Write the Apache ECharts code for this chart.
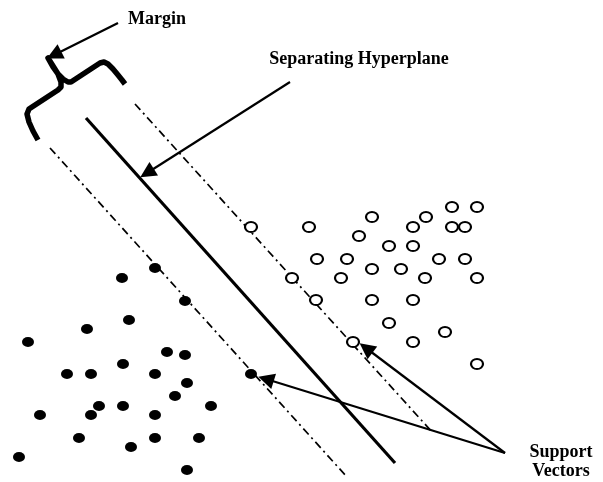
<!DOCTYPE html>
<html>
<head>
<meta charset="utf-8">
<script src="https://cdn.jsdelivr.net/npm/echarts@6/dist/echarts.min.js"></script>
<style>html,body{margin:0;padding:0;background:#fff;}#c{width:603px;height:482px;}</style>
</head>
<body>
<div id="c"></div>
<script>
// Class +1 (open circles)
var openPoints = [
  [251,227],[309,227],[372,217],[426,217],[452,207],[477,207],[413,227],[452,227],[465,227],
  [359,236],[389,246],[413,246],[317,259],[347,259],[439,259],[465,259],[372,269],[401,269],
  [292,278],[341,278],[425,278],[477,278],[316,300],[372,300],[413,300],[389,323],[445,332],
  [353,342],[413,342],[477,364]
];
// Class -1 (filled circles)
var filledPoints = [
  [155,268],[122,278],[185,301],[129,320],[87,329],[28,342],[167,352],[185,355],[123,364],
  [67,374],[91,374],[155,374],[251,374],[187,383],[175,396],[99,406],[123,406],[211,406],
  [40,415],[91,415],[155,415],[79,438],[155,438],[199,438],[131,447],[19,457],[187,470]
];
// Lines
var hyperplane = [[86,118],[395,463]];
var marginUpper = [[135,104],[433,433]];
var marginLower = [[50,148],[347,477]];
var brace = [
  [38,140],[33,131],[29,122],[27,114],[29,109],[32,107],[58,90],[61,87],[61,82],[58,74],
  [53,66],[48,58],[53,67],[58,74],[63,79],[68,82],[71,82],[100,63],[104,62],[108,64],
  [113,69],[118,75],[122,80],[125,84]
];
var arrows = [
  [[118,23],[54,55]],
  [[290,82],[147,173]],
  [[505,453],[366,348]],
  [[505,453],[266,379]]
];
var labels = [
  {name:'Margin', value:[157,19]},
  {name:'Separating Hyperplane', value:[359,59]},
  {name:'Support\nVectors', value:[561,462]}
];

var chart = echarts.init(document.getElementById('c'), null, {renderer:'canvas'});
var dashDot = [8,4,2,4];
chart.setOption({
  animation:false,
  backgroundColor:'#ffffff',
  grid:{left:0,right:0,top:0,bottom:0},
  xAxis:{type:'value',min:0,max:603,show:false},
  yAxis:{type:'value',min:0,max:482,inverse:true,show:false},
  series:[
    {type:'line',data:marginUpper,symbol:'none',lineStyle:{color:'#000',width:1.7,type:dashDot},z:1},
    {type:'line',data:marginLower,symbol:'none',lineStyle:{color:'#000',width:1.7,type:dashDot},z:1},
    {type:'line',data:hyperplane,symbol:'none',lineStyle:{color:'#000',width:3.2},z:2},
    {type:'line',data:brace,symbol:'none',lineStyle:{color:'#000',width:5.5,join:'round',cap:'butt'},z:2},
    {type:'lines',coordinateSystem:'cartesian2d',
     data:arrows.map(function(a){return {coords:a};}),
     symbol:['none','triangle'],symbolSize:[4,16],
     lineStyle:{color:'#000',width:2.2,opacity:1},z:3},
    {type:'scatter',data:filledPoints,symbol:'circle',symbolSize:[12,10],
     itemStyle:{color:'#000',opacity:1},z:4},
    {type:'scatter',data:openPoints,symbol:'circle',symbolSize:[12,10],
     itemStyle:{color:'#fff',borderColor:'#000',borderWidth:2,opacity:1},z:4},
    {type:'scatter',data:labels,symbolSize:0,z:5,itemStyle:{opacity:1},
     label:{show:true,position:'inside',formatter:function(p){return p.name;},opacity:1,
       fontFamily:'Liberation Serif',fontWeight:'bold',fontSize:18,color:'#000',lineHeight:19,align:'center'}}
  ]
});
</script>
</body>
</html>
